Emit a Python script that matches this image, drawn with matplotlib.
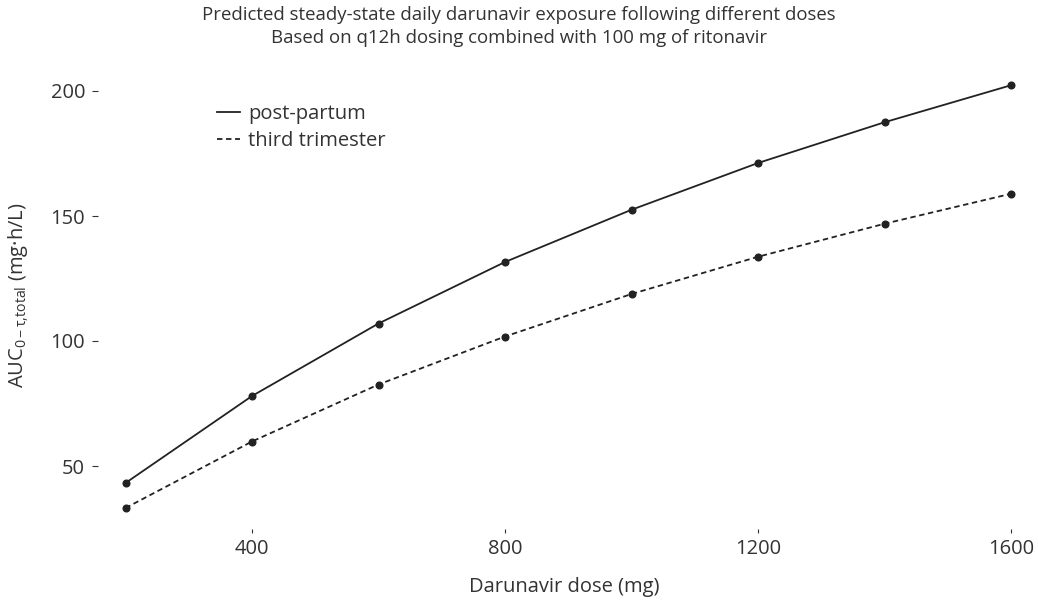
import numpy as np
import matplotlib.pyplot as plt

plt.rcParams['font.family'] = ['Open Sans', 'DejaVu Sans']
plt.rcParams['mathtext.fontset'] = 'custom'
plt.rcParams['mathtext.rm'] = 'Open Sans'
plt.rcParams['mathtext.it'] = 'Open Sans:italic'

dose = [200, 400, 600, 800, 1000, 1200, 1400, 1600]
post_partum = [43.2, 78.0, 107.0, 131.6, 152.5, 171.2, 187.5, 202.3]
third_trimester = [33.2, 59.8, 82.6, 101.8, 118.8, 133.7, 146.9, 158.9]
xticks = [400, 800, 1200, 1600]
yticks = [50, 100, 150, 200]

W, H = 1038, 601
fig = plt.figure(figsize=(W / 100, H / 100), dpi=100)
ax = fig.add_axes([98 / W, 1 - 529 / H, (1030 - 98) / W, (529 - 80) / H])

ink = '#222222'
txt = '#333333'
fs = 14.5
ax.plot(dose, post_partum, '-', color=ink, lw=1.3, marker='o', ms=4.8,
        label='post-partum')
ax.plot(dose, third_trimester, color=ink, lw=1.3, ls=(0, (3, 2)), marker='o',
        ms=4.8, label='third trimester')

ax.set_xlim(156.5, 1630)
ax.set_ylim(24.8, 204.4)
ax.set_xticks(xticks)
ax.set_yticks(yticks)
for s in ax.spines.values():
    s.set_visible(False)
ax.tick_params(axis='y', length=4.3, width=0.8, pad=5, color=txt,
               labelcolor=txt, labelsize=fs)
ax.tick_params(axis='x', length=3, width=0.8, pad=4, color=txt,
               labelcolor=txt, labelsize=fs)

ax.set_xlabel('Darunavir dose (mg)', fontsize=fs, color=txt, labelpad=13)
ax.set_ylabel(r'AUC$_{\mathrm{0-\tau{,}total}}$ (mg·h/L)', fontsize=fs,
              color=txt)
ax.yaxis.set_label_coords(-0.072, 0.521)

fig.text(0.5, 1 - 15 / H, 'Predicted steady-state daily darunavir exposure following different doses',
         ha='center', va='center', fontsize=13.4, color=txt)
fig.text(0.5, 1 - 38 / H, 'Based on q12h dosing combined with 100 mg of ritonavir',
         ha='center', va='center', fontsize=13.4, color=txt)

leg = ax.legend(loc='upper left', bbox_to_anchor=(217 / W, 1 - 104 / H),
                bbox_transform=fig.transFigure, frameon=False, fontsize=fs,
                borderpad=0, borderaxespad=0, handlelength=1.15,
                handletextpad=0.4, labelspacing=0.35)
for t in leg.get_texts():
    t.set_color(txt)
for h in leg.legend_handles:
    h.set_marker('')

fig.savefig('out.png', dpi=100)
